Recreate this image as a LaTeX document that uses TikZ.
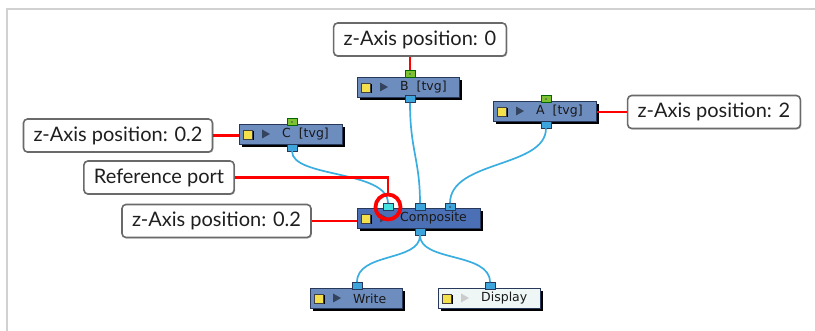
\documentclass[tikz,border=0pt]{standalone}
\usepackage{fontspec}
\setmainfont{Lato}
\newfontfamily\nodefont{DejaVu Sans}
\usetikzlibrary{shadows}
\definecolor{tvgfill}{HTML}{6E8DBF}
\definecolor{compfill}{HTML}{4C70B6}
\definecolor{dispfill}{HTML}{EEF6F6}
\definecolor{nodeborder}{HTML}{27385A}
\definecolor{yellowc}{HTML}{F4E04A}
\definecolor{tric}{HTML}{34445F}
\definecolor{wire}{HTML}{3AAEE0}
\definecolor{portblue}{HTML}{3DA5DC}
\definecolor{portgreen}{HTML}{7DC232}
\definecolor{portcyan}{HTML}{45E0E0}
\definecolor{redc}{HTML}{FF0000}
\definecolor{calloutborder}{HTML}{6A6A6A}
\newcommand\nodetextfont{\nodefont\fontsize{12.5pt}{14pt}\selectfont}
\newcommand\flownode[7]{% name, left, top, width, label, fill, triangle colour
  \fill[black] (#2+3,#3+3) rectangle ++(#4,20);
  \node[draw=nodeborder, line width=0.8pt, fill=#6, minimum width=#4pt, minimum height=20pt,
        anchor=north west, inner sep=0pt] (#1) at (#2,#3) {};
  \fill[black] (#2+5.5,#3+7.5) rectangle ++(9,9);
  \draw[fill=yellowc, draw=black!75, line width=0.6pt] (#2+4,#3+6) rectangle ++(9,9);
  \fill[#7] (#2+23,#3+5.5) -- (#2+31,#3+10) -- (#2+23,#3+14.5) -- cycle;
  \node[anchor=west, inner sep=0pt, text=black!90] at (#2+43,#3+10.5) {\nodetextfont #5};
}
\tikzset{
  port/.style={draw=nodeborder, line width=0.6pt, minimum width=10pt, minimum height=7pt, inner sep=0pt},
  outport/.style={port, fill=portblue},
  inport/.style={port, fill=portgreen, draw=black!60!green},
  callout/.style={draw=calloutborder, line width=1.6pt, rounded corners=4pt, fill=white,
     minimum height=33pt, inner xsep=10pt, font=\fontsize{20}{23}\selectfont, text=black!88,
     general shadow={fill=black!25, shadow xshift=1pt, shadow yshift=-1pt}},
  redline/.style={draw=redc, line width=2.6pt},
  wireline/.style={draw=wire, line width=1.7pt},
}
\begin{document}
\begin{tikzpicture}[x=1pt,y=-1pt]
\useasboundingbox (0,0) rectangle (815,331);
\draw[black!18, line width=1.6pt] (7,331) -- (7,9) -- (815,9);

% nodes
\flownode{B}{357}{77}{102}{B\ \ [tvg]}{tvgfill}{tric}
\flownode{A}{493}{101}{103}{A\ \ [tvg]}{tvgfill}{tric}
\flownode{C}{239}{124}{103}{C\ \ [tvg]}{tvgfill}{tric}
\flownode{Comp}{357}{208}{123}{Composite}{compfill}{tric}
\flownode{W}{310}{288}{92}{Write}{tvgfill}{tric}
\flownode{D}{438}{288}{102}{Display}{dispfill}{black!20}

% ports
\node[inport] (Bin) at (410,74) {};
\fill[black!70] (410,74) circle (0.9);
\node[outport] (Bout) at (410,99) {};
\node[inport] (Ain) at (546,99) {};
\fill[black!70] (546,99) circle (0.9);
\node[outport] (Aout) at (546,124.5) {};
\node[inport] (Cin) at (292,122) {};
\fill[black!70] (292,122) circle (0.9);
\node[outport] (Cout) at (292,147.5) {};
\node[port, fill=portcyan] (P1) at (388,207) {};
\node[outport] (P2) at (420,207) {};
\node[outport] (P3) at (450,207) {};
\fill[black!80] (450,207) circle (0.9);
\node[outport] (Compout) at (420,231.5) {};
\node[outport] (Win) at (357,286) {};
\node[outport] (Din) at (490,286) {};

% wires
\draw[wireline] (Cout.south) .. controls (292,178) and (388,170) .. (P1.north);
\draw[wireline] (Bout.south) .. controls (410,150) and (420,160) .. (P2.north);
\draw[wireline] (Aout.south) .. controls (546,168) and (450,160) .. (P3.north);
\draw[wireline] (Compout.south) .. controls (420,262) and (357,252) .. (Win.north);
\draw[wireline] (Compout.south) .. controls (420,262) and (490,252) .. (Din.north);

% callouts
\node[callout] (L0) at (420,39.5) {z-Axis position: 0};
\node[callout] (L2) at (714,112) {z-Axis position: 2};
\node[callout] (LC) at (118,135.5) {z-Axis position: 0.2};
\node[callout] (LR) at (159,177.5) {Reference port};
\node[callout] (LP) at (216.5,221) {z-Axis position: 0.2};

% red connectors
\draw[redline] (L0.south -| Bin.north) -- (Bin.north);
\draw[redline] (L2.west) -- (L2.west -| A.east);
\draw[redline] (LC.east) -- (LC.east -| C.west);
\draw[redline] (LP.east) -- (LP.east -| Comp.west);
\coordinate (ringtop) at (388,194.5);
\draw[redline] (LR.east) -- (LR.east -| ringtop) -- (ringtop);
\draw[draw=redc, line width=3.8pt] (P1) circle (12.5);
\end{tikzpicture}
\end{document}
